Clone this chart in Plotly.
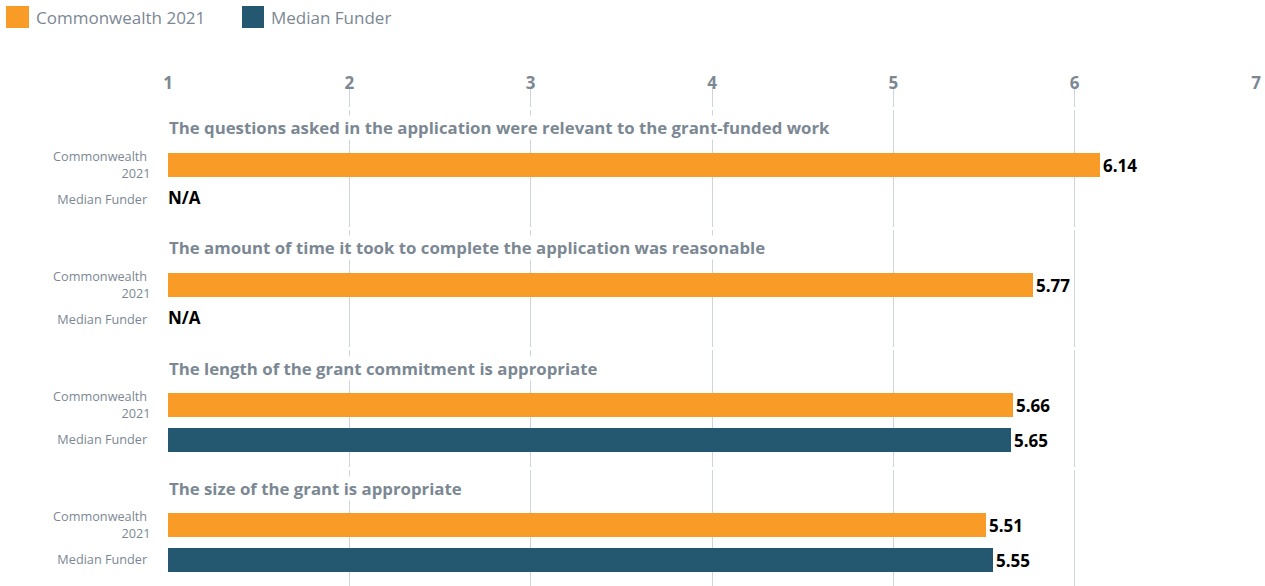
import plotly.graph_objects as go
from plotly.subplots import make_subplots

# data
questions = [
    "The questions asked in the application were relevant to the grant-funded work",
    "The amount of time it took to complete the application was reasonable",
    "The length of the grant commitment is appropriate",
    "The size of the grant is appropriate",
]
row_labels = ["Commonwealth <br>2021", "Median Funder "]
series_names = ["Commonwealth 2021", "Median Funder"]
commonwealth = [6.14, 5.77, 5.66, 5.51]
median_funder = [None, None, 5.65, 5.55]
x_ticks = [1, 2, 3, 4, 5, 6, 7]

ORANGE = "#F89C27"
TEAL = "#245870"
GREY = "#7b8893"
GRID = "#cdd4da"
FONT = "Open Sans"

W, H = 1265, 586
L, R = 168, 9
header_h = 20
group_h = [117, 117, 117, 116]
gap = 3
heights = [header_h] + group_h
total = sum(heights) + gap * (len(heights) - 1)
T = H - total
plot_w = W - L - R

fig = make_subplots(rows=5, cols=1, row_heights=heights,
                    vertical_spacing=gap / total, shared_xaxes=False)

series = [commonwealth, median_funder]
colors = [ORANGE, TEAL]

# header row: an empty trace so the axis exists
fig.add_trace(go.Scatter(x=[None], y=[None], showlegend=False, hoverinfo="skip"), row=1, col=1)

for g, q in enumerate(questions):
    r = g + 2
    for s in range(2):
        v = series[s][g]
        if v is None:
            fig.add_trace(go.Scatter(
                x=[x_ticks[0]], y=[row_labels[s]], mode="text", text=["N/A"],
                textposition="middle right",
                textfont=dict(family=FONT, size=17, color="black", weight="bold"),
                showlegend=False, hoverinfo="skip", cliponaxis=False,
            ), row=r, col=1)
        else:
            fig.add_trace(go.Bar(
                x=[v], y=[row_labels[s]], orientation="h",
                marker=dict(color=colors[s], line=dict(width=0)),
                width=0.71, text=[f"{v:.2f}"], textposition="outside",
                textfont=dict(family=FONT, size=17, color="black", weight="bold"),
                cliponaxis=False, showlegend=False,
            ), row=r, col=1)
    # y range so bars sit 55 px and 90 px below group top
    px = 35.0
    gh = group_h[g]
    top = -55 / px
    bottom = 1 + (gh - 90) / px
    fig.update_yaxes(range=[bottom, top], type="category", row=r, col=1,
                     categoryorder="array", categoryarray=row_labels)
    fig.add_annotation(
        x=x_ticks[0], y=top + 18 / px, xref=f"x{r}", yref=f"y{r}",
        text=q, showarrow=False, xanchor="left", yanchor="middle",
        bgcolor="white", borderpad=0,
        font=dict(family=FONT, size=16.8, color=GREY, weight="bold"),
    )

# legend drawn as swatches + labels at the top left
def px_x(p):
    return (p - L) / plot_w

def px_y(p):
    return (H - p) / total

legend_sw = [(6, 29), (242, 264)]
legend_tx = [34, 269]
for name, c, (x0, x1), tx in zip(series_names, colors, legend_sw, legend_tx):
    fig.add_shape(type="rect", xref="paper", yref="paper",
                  x0=px_x(x0), x1=px_x(x1), y0=px_y(28), y1=px_y(6),
                  fillcolor=c, line=dict(width=0))
    fig.add_annotation(xref="paper", yref="paper", x=px_x(tx), y=px_y(17),
                       text=name, showarrow=False, xanchor="left", yanchor="middle",
                       font=dict(family=FONT, size=17, color=GREY))

fig.update_xaxes(range=[x_ticks[0], x_ticks[-1]], tickvals=x_ticks,
                 showgrid=True, gridcolor=GRID, gridwidth=1,
                 zeroline=False, showline=False, showticklabels=False)
fig.update_xaxes(side="top", showticklabels=True, ticks="", ticklabelstandoff=-6,
                 tickfont=dict(family=FONT, size=17, color=GREY, weight="bold"),
                 row=1, col=1)
fig.update_yaxes(showgrid=False, zeroline=False, showline=False,
                 ticks="outside", ticklen=14, tickcolor="rgba(0,0,0,0)",
                 tickfont=dict(family=FONT, size=12.7, color=GREY))
fig.update_yaxes(showticklabels=False, ticks="", range=[0, 1], row=1, col=1)

fig.update_layout(
    width=W, height=H,
    margin=dict(l=L, r=R, t=T, b=0, autoexpand=False),
    paper_bgcolor="white", plot_bgcolor="white",
    barmode="group", bargap=0, showlegend=False,
    font=dict(family=FONT, color=GREY),
)

fig.write_html("out.html", config={"displayModeBar": False},
               post_script="document.body.style.margin='0';document.body.style.overflow='hidden';")
